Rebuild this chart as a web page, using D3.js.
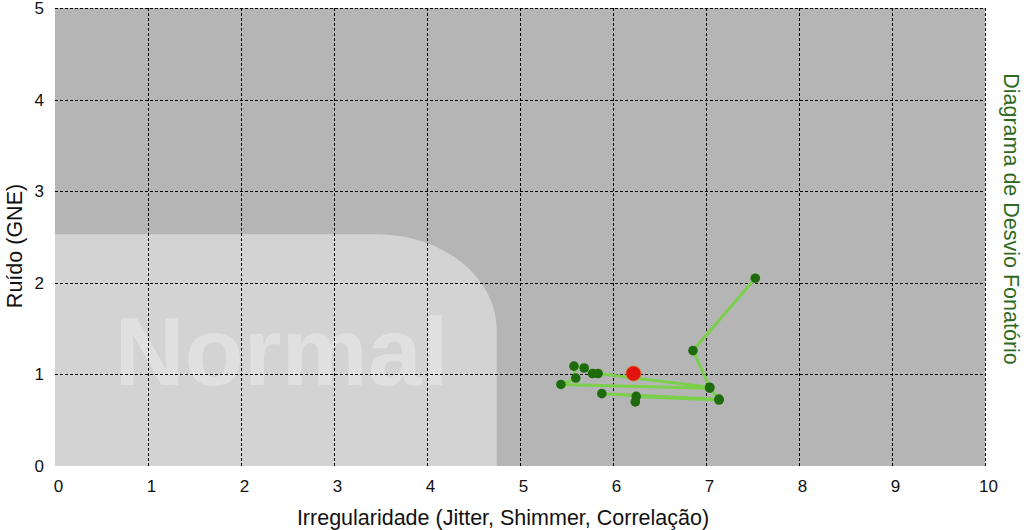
<!DOCTYPE html>
<html><head><meta charset="utf-8">
<script src="https://cdn.jsdelivr.net/npm/d3@7"></script>
<style>body{margin:0;background:#fff}svg{display:block;font-family:"Liberation Sans",Arial,Helvetica,sans-serif}</style>
</head><body><svg id="c" width="1024" height="530"></svg>
<script>
const xTicks = [0,1,2,3,4,5,6,7,8,9,10];
const yTicks = [0,1,2,3,4,5];
const xLabel = "Irregularidade (Jitter, Shimmer, Correlação)";
const yLabel = "Ruído (GNE)";
const rightLabel = "Diagrama de Desvio Fonatório";
const normalLabel = "Normal";
// normal zone extent (data units)
const normalX = 4.75, normalY = 2.53;
// measurements (in order)
const ptX = [7.53, 6.86, 7.04, 5.84, 5.78, 5.69, 5.58, 5.60, 5.44, 7.04, 7.14, 5.88, 7.14, 6.25, 6.24];
const ptY = [2.05, 1.26, 0.86, 1.01, 1.01, 1.07, 1.09, 0.96, 0.89, 0.85, 0.73, 0.79, 0.72, 0.76, 0.70];
const meanX = [6.22], meanY = [1.01];

const svg = d3.select("#c");
const x = d3.scaleLinear().domain([0,10]).range([55,985]);
const y = d3.scaleLinear().domain([0,5]).range([466,8]);

svg.append("rect").attr("x",x(0)).attr("y",y(5)).attr("width",x(10)-x(0)).attr("height",y(0)-y(5)).attr("fill","#b5b5b5");

const rx=120, ry=96;
const x0=x(0), x1=x(normalX), yt=y(normalY), yb=y(0);
svg.append("path").attr("d",`M${x0},${yb}L${x0},${yt}L${x1-rx},${yt}A${rx},${ry} 0 0 1 ${x1},${yt+ry}L${x1},${yb}Z`).attr("fill","#d3d3d3");

svg.append("text").attr("x",x(0.64)).attr("y",y(0.88)).attr("font-size",97).attr("font-weight","bold").attr("fill","#e0e0e0").text(normalLabel);

// grid
const g = svg.append("g").attr("stroke","#000").attr("stroke-width",1).attr("stroke-dasharray","3,2");
g.selectAll("line.v").data(xTicks.filter(d=>d>0)).join("line").attr("x1",d=>Math.round(x(d))+0.5).attr("x2",d=>Math.round(x(d))+0.5).attr("y1",y(5)).attr("y2",y(0));
g.selectAll("line.h").data(yTicks.filter(d=>d>0)).join("line").attr("y1",d=>Math.round(y(d))+0.5).attr("y2",d=>Math.round(y(d))+0.5).attr("x1",x(0)).attr("x2",x(10));

// axes
const xa = svg.append("g").attr("transform",`translate(0,${y(0)})`).call(d3.axisBottom(x).tickValues(xTicks).tickSize(0).tickPadding(14).tickFormat(d3.format("d")));
xa.select(".domain").remove();
xa.selectAll("text").attr("font-size",17).attr("font-family","Liberation Sans, Arial, sans-serif").attr("fill","#111").attr("dx",3);
const ya = svg.append("g").attr("transform",`translate(${x(0)},0)`).call(d3.axisLeft(y).tickValues(yTicks).tickSize(0).tickPadding(11).tickFormat(d3.format("d")));
ya.select(".domain").remove();
ya.selectAll("text").attr("font-size",17).attr("font-family","Liberation Sans, Arial, sans-serif").attr("fill","#111");

// path
const pts = ptX.map((v,i)=>[v,ptY[i]]);
svg.append("path").datum(pts).attr("d",d3.line().x(d=>x(d[0])).y(d=>y(d[1]))).attr("fill","none").attr("stroke","#7ad04a").attr("stroke-width",3).attr("stroke-linejoin","round");
svg.selectAll("circle.p").data(pts).join("circle").attr("cx",d=>x(d[0])).attr("cy",d=>y(d[1])).attr("r",4.8).attr("fill","#1e6b0c");
svg.selectAll("circle.m").data(meanX.map((v,i)=>[v,meanY[i]])).join("circle").attr("cx",d=>x(d[0])).attr("cy",d=>y(d[1])).attr("r",7.5).attr("fill","#e0130f").attr("stroke","#d8741f").attr("stroke-width",0.8);

// labels
svg.append("text").attr("x",503).attr("y",525).attr("text-anchor","middle").attr("font-size",21.5).attr("fill","#111").text(xLabel);
svg.append("text").attr("transform","translate(22,246) rotate(-90)").attr("text-anchor","middle").attr("font-size",21.5).attr("fill","#111").text(yLabel);
svg.append("text").attr("transform","translate(1004,219) rotate(90)").attr("text-anchor","middle").attr("font-size",21.5).attr("fill","#2f6a1e").text(rightLabel);
</script></body></html>
